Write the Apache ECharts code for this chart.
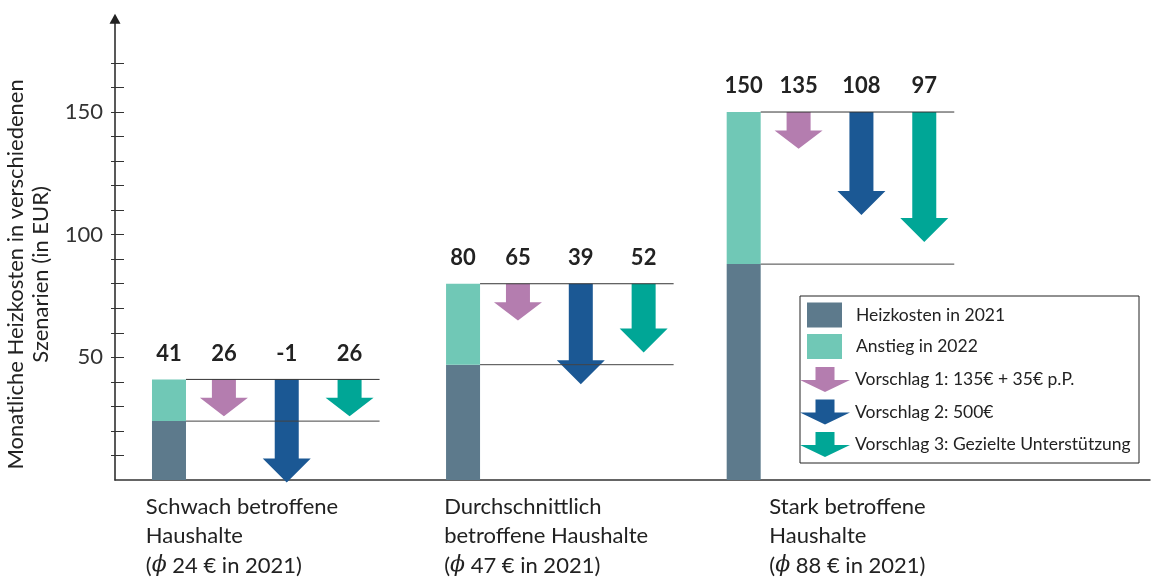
<!DOCTYPE html>
<html><head><meta charset="utf-8">
<script src="https://cdn.jsdelivr.net/npm/echarts@6/dist/echarts.min.js"></script>
<style>html,body{margin:0;padding:0;background:#fff}#c{width:1161px;height:578px}</style>
</head><body><div id="c"></div>
<script>
// ---- data ----
const categories = [
  'Schwach betroffene\nHaushalte\n({i|ϕ} 24 € in 2021)',
  'Durchschnittlich\nbetroffene Haushalte\n({i|ϕ} 47 € in 2021)',
  'Stark betroffene\nHaushalte\n({i|ϕ} 88 € in 2021)'
];
const heizkosten2021 = [24, 47, 88];
const anstieg2022 = [17, 33, 62];
const vorschlag1 = [26, 65, 135];
const vorschlag2 = [-1, 39, 108];
const vorschlag3 = [26, 52, 97];
const yTickValues = [10, 20, 30, 40, 50, 60, 70, 80, 90, 100, 110, 120, 130, 140, 150, 160, 170];
const yLabelValues = [50, 100, 150];
const seriesNames = ['Heizkosten in 2021', 'Anstieg in 2022', 'Vorschlag 1: 135€ + 35€ p.P.', 'Vorschlag 2: 500€', 'Vorschlag 3: Gezielte Unterstützung'];
const yAxisName = 'Monatliche Heizkosten in verschiedenen\nSzenarien (in EUR)';

// ---- layout (not data) ----
const GROUP_X = [0, 4.82, 9.42];
const SUB_X = [0, 0.9, 1.93, 2.96];
const CAT_DX = [-0.38, -0.31, 0.42];
const COLORS = ['#5D7A8C', '#70C8B6', '#B47DAF', '#1B5894', '#00A696'];
const FONT = 'Lato, "Open Sans", sans-serif';

const totals = heizkosten2021.map((v, i) => v + anstieg2022[i]);
const proposals = [vorschlag1, vorschlag2, vorschlag3];

const chart = echarts.init(document.getElementById('c'), null, {renderer: 'canvas'});

function barItem(params, api) {
  const x = api.value(0), base = api.value(1), top = api.value(2);
  const p0 = api.coord([x, base]), p1 = api.coord([x, top]);
  return {type: 'rect', shape: {x: p0[0] - 17, y: p1[1], width: 34, height: p0[1] - p1[1]}, style: {fill: api.visual('color')}};
}

function arrowItem(params, api) {
  const x = api.value(0), top = api.value(1), end = api.value(2);
  const p0 = api.coord([x, top]), p1 = api.coord([x, end]);
  const len = p1[1] - p0[1];
  const hh = Math.min(24, len * 0.5);
  const sw = 12, hw = 24, cx = p0[0];
  return {
    type: 'polygon',
    shape: {points: [[cx - sw, p0[1]], [cx + sw, p0[1]], [cx + sw, p1[1] - hh], [cx + hw, p1[1] - hh], [cx, p1[1]], [cx - hw, p1[1] - hh], [cx - sw, p1[1] - hh]]},
    style: {fill: api.visual('color')}
  };
}

function annotItem(params, api) {
  const i = params.dataIndex;
  const gx = api.value(0), heiz = api.value(1), tot = api.value(2);
  const barP = api.coord([gx, tot]);
  const heizP = api.coord([gx, heiz]);
  const endX = api.coord([gx + SUB_X[3], tot])[0] + 30;
  const children = [
    {type: 'line', shape: {x1: barP[0] + 17, y1: barP[1], x2: endX, y2: barP[1]}, style: {stroke: '#333', lineWidth: 1}},
    {type: 'line', shape: {x1: heizP[0] + 17, y1: heizP[1], x2: endX, y2: heizP[1]}, style: {stroke: '#444', lineWidth: 1}}
  ];
  const vals = [tot, api.value(3), api.value(4), api.value(5)];
  vals.forEach((v, k) => {
    const p = api.coord([gx + SUB_X[k], tot]);
    children.push({type: 'text', style: {text: String(v), x: p[0], y: p[1] - 26, fill: '#222', fontSize: 22, fontWeight: 'bold', fontFamily: FONT, align: 'center', verticalAlign: 'middle'}});
  });
  const cp = api.coord([gx + CAT_DX[i], 0]);
  children.push({type: 'text', style: {
    text: categories[i], x: cp[0], y: cp[1] + 12, fill: '#222', fontSize: 22, lineHeight: 29.5, fontFamily: FONT, align: 'left', verticalAlign: 'top',
    rich: {i: {fontStyle: 'italic', fontSize: 22, lineHeight: 29.5, fontFamily: '"DejaVu Serif", serif', fill: '#222'}}
  }});
  return {type: 'group', children};
}

const arrowIcon = 'path://M15.5,0 L34.5,0 L34.5,13 L50,13 L25,25 L0,13 L15.5,13 Z';

const option = {
  animation: false,
  backgroundColor: '#fff',
  grid: {left: 115, right: 11, top: 18.8, bottom: 98, containLabel: false, outerBoundsMode: 'none'},
  xAxis: {
    type: 'value', min: -0.885, max: 16.08,
    axisLine: {show: true, onZero: false, lineStyle: {color: '#333', width: 1.5}},
    axisTick: {show: false}, axisLabel: {show: false}, splitLine: {show: false}
  },
  yAxis: [{
    type: 'value', min: 0, max: 188, position: 'left',
    name: yAxisName, nameLocation: 'middle', nameRotate: 90, nameGap: 51,
    nameTextStyle: {fontSize: 22, lineHeight: 25, fontFamily: FONT, color: '#222', padding: [0, 50, 0, 0]},
    axisLine: {show: true, onZero: false, symbol: ['none', 'triangle'], symbolSize: [11, 10], lineStyle: {color: '#222', width: 1.5}},
    axisTick: {show: true, inside: true, length: 9, customValues: yTickValues, lineStyle: {color: '#333'}},
    axisLabel: {customValues: yLabelValues, fontSize: 22, fontFamily: FONT, color: '#333', margin: 12},
    splitLine: {show: false}
  }, {
    type: 'value', min: 0, max: 188, position: 'left',
    axisLine: {show: false, onZero: false},
    axisTick: {show: true, inside: false, length: 4, customValues: yTickValues, lineStyle: {color: '#333'}},
    axisLabel: {show: false}, splitLine: {show: false}
  }],
  legend: [{
    left: 807, top: 302.5, orient: 'vertical', padding: 0,
    itemWidth: 35, itemHeight: 25, itemGap: 6.5,
    data: [{name: seriesNames[0], icon: 'rect'}, {name: seriesNames[1], icon: 'rect'}],
    textStyle: {fontSize: 17.5, fontFamily: FONT, color: '#222', padding: [0, 0, 0, 9]}
  }, {
    left: 800, top: 367, orient: 'vertical', padding: 0,
    itemWidth: 50, itemHeight: 25, itemGap: 7.5,
    data: [2, 3, 4].map(k => ({name: seriesNames[k], icon: arrowIcon})),
    textStyle: {fontSize: 17.5, fontFamily: FONT, color: '#222'}
  }],
  graphic: [{type: 'rect', shape: {x: 800, y: 296, width: 339, height: 167}, style: {fill: 'none', stroke: '#222', lineWidth: 1}, z: 0}],
  series: [
    {name: seriesNames[0], type: 'custom', renderItem: barItem, z: 2, itemStyle: {color: COLORS[0]}, encode: {x: 0, y: [1, 2]},
      data: heizkosten2021.map((v, i) => [GROUP_X[i], 0, v])},
    {name: seriesNames[1], type: 'custom', renderItem: barItem, z: 2, itemStyle: {color: COLORS[1]}, encode: {x: 0, y: [1, 2]},
      data: anstieg2022.map((v, i) => [GROUP_X[i], heizkosten2021[i], heizkosten2021[i] + v])},
    ...proposals.map((arr, k) => ({
      name: seriesNames[k + 2], type: 'custom', renderItem: arrowItem, z: 2,
      itemStyle: {color: COLORS[k + 2]}, encode: {x: 0, y: [1, 2]},
      data: arr.map((v, i) => [GROUP_X[i] + SUB_X[k + 1], totals[i], v])
    })),
    {name: 'annot', type: 'custom', renderItem: annotItem, z: 5, silent: true, encode: {x: 0, y: [1, 2]},
      data: totals.map((t, i) => [GROUP_X[i], heizkosten2021[i], t, vorschlag1[i], vorschlag2[i], vorschlag3[i]])}
  ]
};
chart.setOption(option);
</script></body></html>
